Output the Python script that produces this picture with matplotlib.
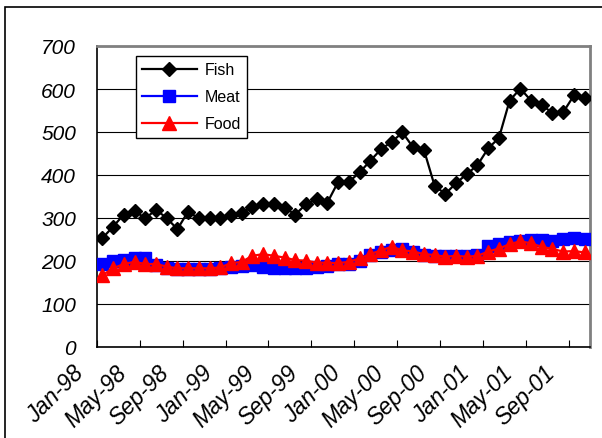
import matplotlib
matplotlib.use("Agg")
import matplotlib.pyplot as plt
from matplotlib.patches import Rectangle
import numpy as np

# monthly series, Jan-98 .. Oct-01
fish = [253, 280, 308, 317, 299, 319, 300, 274, 315, 299, 299, 299,
        308, 312, 326, 332, 332, 324, 308, 332, 344, 336, 384, 384,
        406, 433, 460, 477, 499, 464, 459, 375, 356, 381, 402, 423,
        462, 486, 573, 601, 573, 563, 544, 546, 585, 578]
meat = [194, 200, 202, 207, 207, 190, 184, 182, 182, 182, 182, 184,
        186, 188, 190, 186, 184, 183, 183, 183, 185, 188, 192, 194,
        200, 215, 222, 226, 228, 220, 215, 212, 212, 211, 212, 213,
        236, 240, 244, 247, 248, 248, 247, 252, 253, 252]
food = [167, 183, 193, 198, 193, 193, 187, 183, 183, 183, 183, 185,
        195, 198, 212, 216, 212, 208, 202, 201, 196, 196, 195, 198,
        206, 216, 225, 233, 225, 222, 216, 214, 210, 212, 210, 212,
        222, 229, 239, 246, 241, 233, 228, 222, 223, 220]
tick_labels = ["Jan-98", "May-98", "Sep-98", "Jan-99", "May-99", "Sep-99",
               "Jan-00", "May-00", "Sep-00", "Jan-01", "May-01", "Sep-01"]

plt.rcParams['font.family'] = ['Liberation Sans', 'DejaVu Sans']

fig = plt.figure(figsize=(6.02, 4.39), dpi=100)
ax = fig.add_axes([97/602, 1 - 348/439, 493/602, 301/439])

# outer chart frame
fig.patches.append(Rectangle((5/602, -0.1), 1.2, 1 - 8/439 + 0.1, transform=fig.transFigure,
                             fill=False, edgecolor='black', linewidth=1.2))

x = np.arange(len(fish))
ax.plot(x, fish, color='black', lw=1.6, marker='D', ms=7, mfc='black', mec='black', label='Fish', zorder=5)
ax.plot(x, meat, color='blue', lw=1.6, marker='s', ms=8.5, mfc='blue', mec='blue', label='Meat', zorder=3)
ax.plot(x, food, color='red', lw=1.6, marker='^', ms=9.5, mfc='red', mec='red', label='Food', zorder=4)

ax.set_xlim(-0.5, len(fish) - 0.5)
ax.set_ylim(0, 700)
ax.set_yticks(range(0, 701, 100))
ax.set_yticklabels([str(v) for v in range(0, 701, 100)], fontsize=15, style='italic')
ax.yaxis.grid(True, color='black', lw=0.8)
ax.set_axisbelow(True)
ax.tick_params(axis='y', length=0, pad=15)

# date labels sit left of and below each tick, like Excel does it
xticks = np.arange(-0.5, len(fish) - 0.5, 4)
ax.set_xticks(xticks)
ax.set_xticklabels([])
ax.tick_params(axis='x', direction='in', length=5)
for t, lab in zip(xticks, tick_labels):
    ax.annotate(lab, xy=(t, 0), xycoords=('data', 'axes fraction'),
                xytext=(-18, -10), textcoords='offset points',
                fontsize=16.5, style='italic', rotation=45,
                ha='right', va='top', rotation_mode='anchor', annotation_clip=False)

for s in ['top', 'right']:
    ax.spines[s].set_color('#808080')
    ax.spines[s].set_linewidth(2)
for s in ['left', 'bottom']:
    ax.spines[s].set_color('black')
    ax.spines[s].set_linewidth(1.2)

leg = ax.legend(loc='upper left', bbox_to_anchor=(0.079, 0.967), fontsize=11.5,
                frameon=True, fancybox=False, edgecolor='black', framealpha=1,
                handlelength=3.4, labelspacing=0.75, borderpad=0.4, handletextpad=0.5,
                borderaxespad=0)
leg.get_frame().set_linewidth(1.0)

fig.savefig("out.png", dpi=100)
